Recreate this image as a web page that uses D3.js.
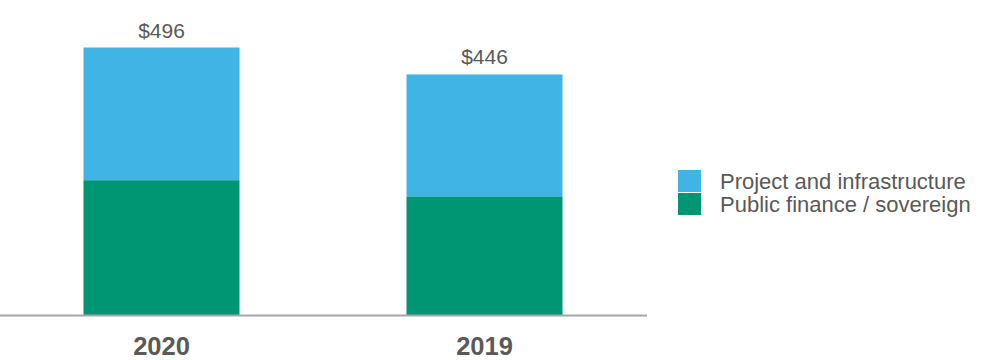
<!DOCTYPE html>
<html>
<head>
<meta charset="utf-8">
<script src="https://cdn.jsdelivr.net/npm/d3@7"></script>
<style>
  html, body { margin: 0; padding: 0; background: #fff; }
  svg { display: block; font-family: "Liberation Sans", Arial, sans-serif; }
</style>
</head>
<body>
<svg id="chart" width="1000" height="360"></svg>
<script>
const categories = ["2020", "2019"];
const seriesNames = ["Public finance / sovereign", "Project and infrastructure"];
const publicFinance = [250, 220];
const projectInfra = [246, 226];
const totalLabels = ["$496", "$446"];
const colors = ["#009673", "#41b4e6"];

const svg = d3.select("#chart");
const baseY = 315;

const x = d3.scaleBand()
  .domain(categories)
  .range([0, 646])
  .paddingInner(0.517)
  .paddingOuter(0.2585);

const y = d3.scaleLinear()
  .domain([0, 496])
  .range([baseY, 47.5]);

const rows = categories.map((c, i) => ({ cat: c, pub: publicFinance[i], proj: projectInfra[i], label: totalLabels[i] }));
const stack = d3.stack().keys(["pub", "proj"]);
const stacked = stack(rows);

svg.append("g").selectAll("g")
  .data(stacked)
  .join("g")
  .attr("fill", (d, i) => colors[i])
  .selectAll("rect")
  .data(d => d)
  .join("rect")
  .attr("x", d => x(d.data.cat))
  .attr("width", x.bandwidth())
  .attr("y", d => y(d[1]))
  .attr("height", d => y(d[0]) - y(d[1]));

// total labels
svg.append("g").selectAll("text")
  .data(rows)
  .join("text")
  .attr("x", d => x(d.cat) + x.bandwidth() / 2)
  .attr("y", d => y(d.pub + d.proj) - 10)
  .attr("text-anchor", "middle")
  .attr("fill", "#595959")
  .attr("font-size", "21px")
  .text(d => d.label);

// x axis
const xAxis = svg.append("g")
  .attr("transform", `translate(0,${baseY})`)
  .call(d3.axisBottom(x).tickSize(0).tickPadding(22));
xAxis.select(".domain").attr("stroke", "#a6a6a6").attr("stroke-width", 2).attr("d", "M0,0.5H647");
xAxis.selectAll("text")
  .attr("fill", "#595959")
  .attr("font-size", "25.5px")
  .attr("font-weight", "bold")
  .attr("font-family", "'Liberation Sans', Arial, sans-serif");

// legend
const legendItems = [
  { name: seriesNames[1], color: colors[1] },
  { name: seriesNames[0], color: colors[0] }
];
const legend = svg.append("g").attr("transform", "translate(678,170)");
const li = legend.selectAll("g")
  .data(legendItems)
  .join("g")
  .attr("transform", (d, i) => `translate(0,${i * 23})`);
li.append("rect").attr("width", 23).attr("height", 22).attr("fill", d => d.color);
li.append("text")
  .attr("x", 42)
  .attr("y", 19)
  .attr("fill", "#595959")
  .attr("font-size", "22px")
  .text(d => d.name);
</script>
</body>
</html>
